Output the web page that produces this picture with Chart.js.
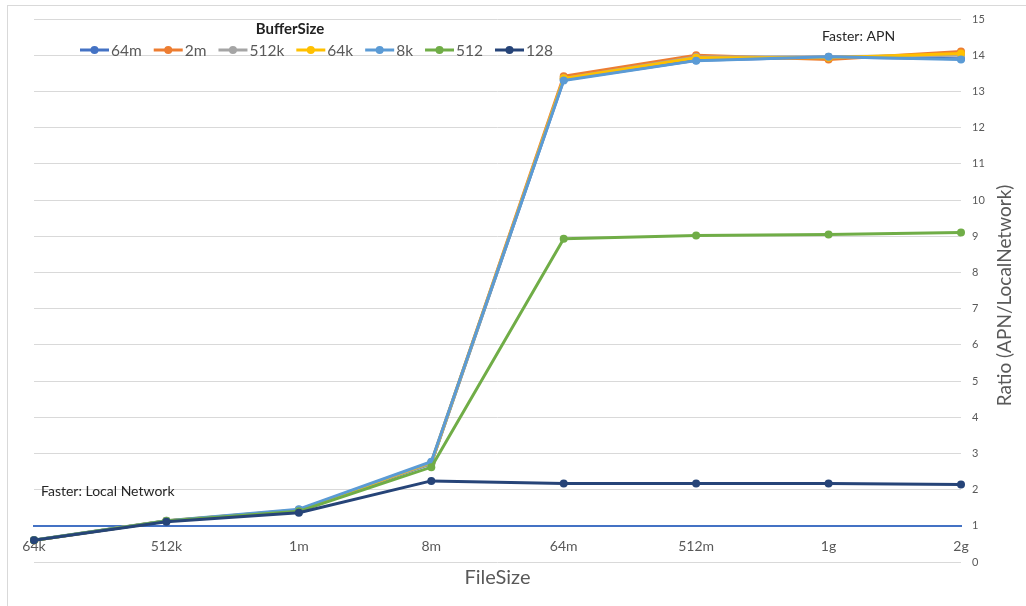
<!DOCTYPE html>
<html>
<head>
<meta charset="utf-8">
<script src="https://cdn.jsdelivr.net/npm/chart.js@4.4.1/dist/chart.umd.min.js"></script>
<style>
  body { margin: 0; background: #fff; }
  #frame { position: absolute; left: 7px; top: 5px; width: 1030px; height: 620px;
           border-left: 1px solid #d9d9d9; border-top: 1px solid #d9d9d9; }
  canvas { position: absolute; left: 0; top: 0; }
</style>
</head>
<body>
<div id="frame"></div>
<canvas id="ratioChart" width="1026" height="606"></canvas>
<script>
// x categories and series names
const fileSizes = ['64k', '512k', '1m', '8m', '64m', '512m', '1g', '2g'];
const bufferSizes = ['64m', '2m', '512k', '64k', '8k', '512', '128'];

// APN / LocalNetwork ratio per buffer size
const ratio64m  = [0.60, 1.13, 1.42, 2.72, 13.32, 13.86, 13.95, 13.90];
const ratio2m   = [0.60, 1.13, 1.43, 2.74, 13.42, 14.00, 13.88, 14.10];
const ratio512k = [0.60, 1.13, 1.44, 2.73, 13.36, 13.95, 13.96, 14.00];
const ratio64k  = [0.60, 1.14, 1.44, 2.75, 13.36, 13.93, 13.93, 14.05];
const ratio8k   = [0.61, 1.14, 1.46, 2.77, 13.30, 13.85, 13.96, 13.88];
const ratio512  = [0.60, 1.13, 1.40, 2.62, 8.93, 9.02, 9.05, 9.10];
const ratio128  = [0.60, 1.11, 1.36, 2.24, 2.17, 2.17, 2.17, 2.14];

const seriesValues = [ratio64m, ratio2m, ratio512k, ratio64k, ratio8k, ratio512, ratio128];
const seriesColors = ['#4472C4', '#ED7D31', '#A5A5A5', '#FFC000', '#5B9BD5', '#70AD47', '#264478'];

const FONT = 'Lato, "Open Sans", sans-serif';
const TEXT_GREY = '#595959';

const datasets = bufferSizes.map((name, i) => ({
    label: name,
    data: seriesValues[i],
    borderColor: seriesColors[i],
    backgroundColor: seriesColors[i],
    pointBackgroundColor: seriesColors[i],
    pointBorderWidth: 0,
    pointRadius: 4,
    borderWidth: 3,
    borderJoinStyle: 'round',
    borderCapStyle: 'round',
    tension: 0,
    clip: false,
    order: bufferSizes.length - i // later series sit on top
}));

// legend, axis titles and the two notes
const extrasPlugin = {
    id: 'extras',
    afterDraw(chart) {
        const ctx = chart.ctx;
        const x = chart.scales.x;
        const y = chart.scales.y;
        ctx.save();

        // legend
        ctx.fillStyle = '#222';
        ctx.font = 'bold 15px ' + FONT;
        ctx.textAlign = 'center';
        ctx.textBaseline = 'middle';
        ctx.fillText('BufferSize', 290, 29);

        ctx.font = '15.5px ' + FONT;
        ctx.textAlign = 'left';
        let lx = 80;
        const ly = 50;
        chart.data.datasets.forEach(ds => {
            ctx.strokeStyle = ds.borderColor;
            ctx.lineWidth = 3;
            ctx.beginPath();
            ctx.moveTo(lx, ly);
            ctx.lineTo(lx + 29, ly);
            ctx.stroke();
            ctx.fillStyle = ds.borderColor;
            ctx.beginPath();
            ctx.arc(lx + 14.5, ly, 4, 0, Math.PI * 2);
            ctx.fill();
            ctx.fillStyle = TEXT_GREY;
            ctx.fillText(ds.label, lx + 31, ly + 1);
            lx += 31 + ctx.measureText(ds.label).width + 12;
        });

        // axis titles
        ctx.fillStyle = TEXT_GREY;
        ctx.font = '20px ' + FONT;
        ctx.textAlign = 'center';
        ctx.fillText('FileSize', (x.left + x.right) / 2, 578);

        ctx.save();
        ctx.translate(1005, (y.top + y.bottom) / 2 + 5);
        ctx.rotate(-Math.PI / 2);
        ctx.font = '19px ' + FONT;
        ctx.fillText('Ratio (APN/LocalNetwork)', 0, 0);
        ctx.restore();

        // notes
        ctx.fillStyle = '#262626';
        ctx.font = '14px ' + FONT;
        ctx.textAlign = 'center';
        ctx.fillText('Faster: APN', x.getPixelForValue(6) + 30, y.getPixelForValue(14.52));
        ctx.textAlign = 'left';
        ctx.fillText('Faster: Local Network', x.left + 7, y.getPixelForValue(1.96));

        ctx.restore();
    }
};

new Chart(document.getElementById('ratioChart'), {
    type: 'line',
    data: { labels: fileSizes, datasets: datasets },
    options: {
        responsive: false,
        animation: false,
        devicePixelRatio: 1,
        layout: { padding: { top: 19, left: 34, right: 0, bottom: 44 } },
        plugins: {
            legend: { display: false },
            tooltip: { enabled: false }
        },
        scales: {
            x: {
                position: { y: 1 },
                offset: false,
                grid: { display: false },
                border: { color: '#4472C4', width: 2 },
                ticks: {
                    color: TEXT_GREY,
                    font: { family: FONT, size: 14 },
                    padding: 4,
                    maxRotation: 0,
                    autoSkip: false
                }
            },
            y: {
                position: 'right',
                min: 0,
                max: 15,
                ticks: {
                    stepSize: 1,
                    padding: 11,
                    color: TEXT_GREY,
                    font: { family: FONT, size: 11 }
                },
                grid: {
                    color: c => (c.tick && c.tick.value === 1) ? 'rgba(0,0,0,0)' : '#d9d9d9',
                    drawTicks: false
                },
                border: { display: false },
                afterFit(scale) { scale.width = 65; }
            }
        }
    },
    plugins: [extrasPlugin]
});
</script>
</body>
</html>
